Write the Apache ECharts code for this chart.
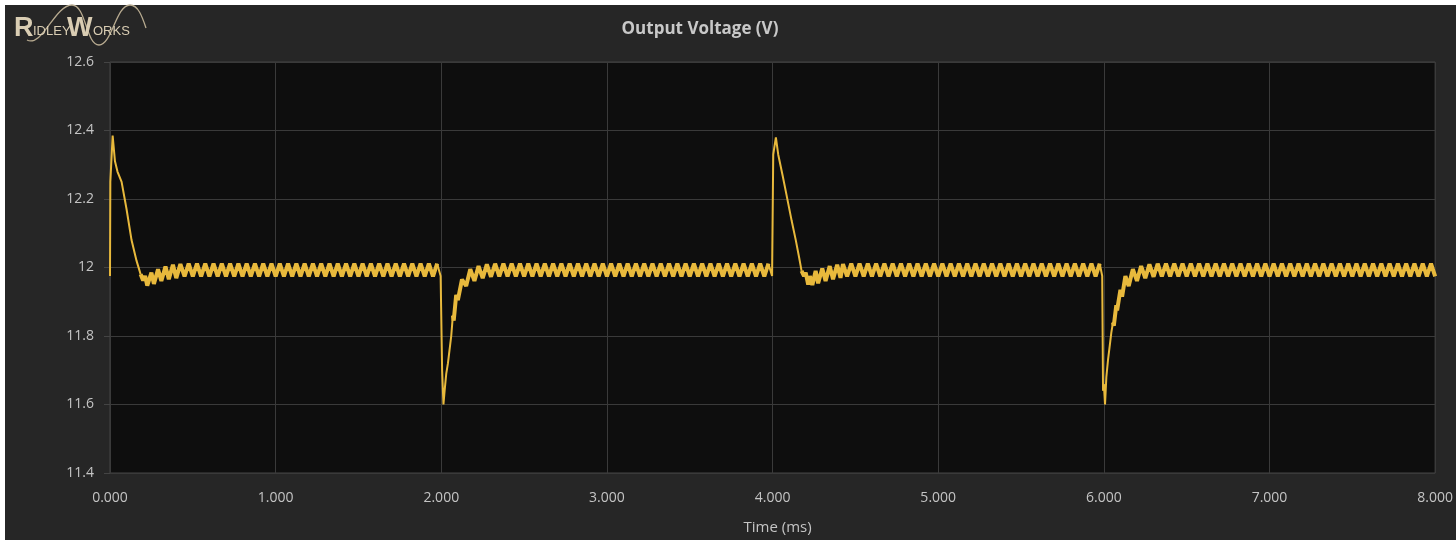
<!DOCTYPE html>
<html>
<head>
<meta charset="utf-8">
<script src="https://cdn.jsdelivr.net/npm/echarts@6/dist/echarts.min.js"></script>
<style>
html,body{margin:0;padding:0;background:#ffffff;}
#chart{width:1456px;height:540px;}
</style>
</head>
<body>
<div id="chart"></div>
<script>
// Tick labels
var xTicks = [0, 1, 2, 3, 4, 5, 6, 7, 8];
var yTicks = [11.4, 11.6, 11.8, 12.0, 12.2, 12.4, 12.6];

// Output voltage samples [time (ms), volts].
// Fast transient excursions (thin trace):
var spike0 = [
  [0,11.975],[0.002,12.25],[0.016,12.385],[0.03,12.31],[0.045,12.28],[0.07,12.25],[0.1,12.17],[0.13,12.08],[0.16,12.02],[0.185,11.98]
];
var spike2 = [
  [1.975,12.011],[1.996,11.975],[2.005,11.7],[2.013,11.6],[2.02,11.64],[2.03,11.69],[2.04,11.72],[2.05,11.76],[2.06,11.8],[2.07,11.86]
];
var spike4 = [
  [3.975,12.011],[3.997,11.975],[4.004,12.33],[4.02,12.38],[4.034,12.33],[4.06,12.27],[4.085,12.21],[4.115,12.137],[4.14,12.08],[4.16,12.03],[4.175,11.99]
];
var spike6 = [
  [5.975,12.011],[5.99,11.975],[5.995,11.64],[6.0,11.66],[6.007,11.6],[6.015,11.68],[6.025,11.73],[6.035,11.77],[6.045,11.81],[6.055,11.84]
];
// Switching ripple (dense band):
var ripple0 = [
  [0.185,11.98],
  [0.2,11.962],[0.212,11.975],[0.225,11.947],[0.25,11.985],[0.265,11.952],[0.29,11.995],[0.31,11.961],[0.335,12.003],[0.355,11.966],[0.38,12.008],
  [0.4,11.969],[0.425,12.01],[0.45,11.974],[0.475,12.011],[0.5,11.974],[0.525,12.011],[0.55,11.974],[0.575,12.011],[0.6,11.974],[0.625,12.011],
  [0.65,11.974],[0.675,12.011],[0.7,11.974],[0.725,12.011],[0.75,11.974],[0.775,12.011],[0.8,11.974],[0.825,12.011],[0.85,11.974],[0.875,12.011],
  [0.9,11.974],[0.925,12.011],[0.95,11.974],[0.975,12.011],[1.0,11.974],[1.025,12.011],[1.05,11.974],[1.075,12.011],[1.1,11.974],[1.125,12.011],
  [1.15,11.974],[1.175,12.011],[1.2,11.974],[1.225,12.011],[1.25,11.974],[1.275,12.011],[1.3,11.974],[1.325,12.011],[1.35,11.974],[1.375,12.011],
  [1.4,11.974],[1.425,12.011],[1.45,11.974],[1.475,12.011],[1.5,11.974],[1.525,12.011],[1.55,11.974],[1.575,12.011],[1.6,11.974],[1.625,12.011],
  [1.65,11.974],[1.675,12.011],[1.7,11.974],[1.725,12.011],[1.75,11.974],[1.775,12.011],[1.8,11.974],[1.825,12.011],[1.85,11.974],[1.875,12.011],
  [1.9,11.974],[1.925,12.011],[1.95,11.974],[1.975,12.011]
];
var ripple2 = [
  [2.07,11.86],[2.075,11.845],
  [2.09,11.92],[2.1,11.905],[2.125,11.965],[2.15,11.946],[2.175,11.995],[2.2,11.961],[2.225,12.004],[2.25,11.969],[2.275,12.009],[2.3,11.973],
  [2.325,12.011],[2.35,11.974],[2.375,12.011],[2.4,11.974],[2.425,12.011],[2.45,11.974],[2.475,12.011],[2.5,11.974],[2.525,12.011],[2.55,11.974],
  [2.575,12.011],[2.6,11.974],[2.625,12.011],[2.65,11.974],[2.675,12.011],[2.7,11.974],[2.725,12.011],[2.75,11.974],[2.775,12.011],[2.8,11.974],
  [2.825,12.011],[2.85,11.974],[2.875,12.011],[2.9,11.974],[2.925,12.011],[2.95,11.974],[2.975,12.011],[3.0,11.974],[3.025,12.011],[3.05,11.974],
  [3.075,12.011],[3.1,11.974],[3.125,12.011],[3.15,11.974],[3.175,12.011],[3.2,11.974],[3.225,12.011],[3.25,11.974],[3.275,12.011],[3.3,11.974],
  [3.325,12.011],[3.35,11.974],[3.375,12.011],[3.4,11.974],[3.425,12.011],[3.45,11.974],[3.475,12.011],[3.5,11.974],[3.525,12.011],[3.55,11.974],
  [3.575,12.011],[3.6,11.974],[3.625,12.011],[3.65,11.974],[3.675,12.011],[3.7,11.974],[3.725,12.011],[3.75,11.974],[3.775,12.011],[3.8,11.974],
  [3.825,12.011],[3.85,11.974],[3.875,12.011],[3.9,11.974],[3.925,12.011],[3.95,11.974],[3.975,12.011]
];
var ripple4 = [
  [4.175,11.99],
  [4.19,11.975],[4.2,11.985],[4.215,11.95],[4.225,11.975],[4.24,11.949],[4.26,11.99],[4.275,11.954],[4.3,11.997],[4.32,11.961],[4.345,12.004],
  [4.365,11.966],[4.39,12.008],[4.41,11.97],[4.425,12.01],[4.45,11.974],[4.475,12.011],[4.5,11.974],[4.525,12.011],[4.55,11.974],[4.575,12.011],
  [4.6,11.974],[4.625,12.011],[4.65,11.974],[4.675,12.011],[4.7,11.974],[4.725,12.011],[4.75,11.974],[4.775,12.011],[4.8,11.974],[4.825,12.011],
  [4.85,11.974],[4.875,12.011],[4.9,11.974],[4.925,12.011],[4.95,11.974],[4.975,12.011],[5.0,11.974],[5.025,12.011],[5.05,11.974],[5.075,12.011],
  [5.1,11.974],[5.125,12.011],[5.15,11.974],[5.175,12.011],[5.2,11.974],[5.225,12.011],[5.25,11.974],[5.275,12.011],[5.3,11.974],[5.325,12.011],
  [5.35,11.974],[5.375,12.011],[5.4,11.974],[5.425,12.011],[5.45,11.974],[5.475,12.011],[5.5,11.974],[5.525,12.011],[5.55,11.974],[5.575,12.011],
  [5.6,11.974],[5.625,12.011],[5.65,11.974],[5.675,12.011],[5.7,11.974],[5.725,12.011],[5.75,11.974],[5.775,12.011],[5.8,11.974],[5.825,12.011],
  [5.85,11.974],[5.875,12.011],[5.9,11.974],[5.925,12.011],[5.95,11.974],[5.975,12.011]
];
var ripple6 = [
  [6.055,11.84],[6.06,11.83],
  [6.075,11.89],[6.08,11.875],[6.1,11.935],[6.11,11.915],[6.13,11.975],[6.15,11.946],[6.175,11.995],[6.2,11.961],[6.225,12.004],[6.25,11.969],
  [6.275,12.009],[6.3,11.973],[6.325,12.011],[6.35,11.974],[6.375,12.011],[6.4,11.974],[6.425,12.011],[6.45,11.974],[6.475,12.011],[6.5,11.974],
  [6.525,12.011],[6.55,11.974],[6.575,12.011],[6.6,11.974],[6.625,12.011],[6.65,11.974],[6.675,12.011],[6.7,11.974],[6.725,12.011],[6.75,11.974],
  [6.775,12.011],[6.8,11.974],[6.825,12.011],[6.85,11.974],[6.875,12.011],[6.9,11.974],[6.925,12.011],[6.95,11.974],[6.975,12.011],[7.0,11.974],
  [7.025,12.011],[7.05,11.974],[7.075,12.011],[7.1,11.974],[7.125,12.011],[7.15,11.974],[7.175,12.011],[7.2,11.974],[7.225,12.011],[7.25,11.974],
  [7.275,12.011],[7.3,11.974],[7.325,12.011],[7.35,11.974],[7.375,12.011],[7.4,11.974],[7.425,12.011],[7.45,11.974],[7.475,12.011],[7.5,11.974],
  [7.525,12.011],[7.55,11.974],[7.575,12.011],[7.6,11.974],[7.625,12.011],[7.65,11.974],[7.675,12.011],[7.7,11.974],[7.725,12.011],[7.75,11.974],
  [7.775,12.011],[7.8,11.974],[7.825,12.011],[7.85,11.974],[7.875,12.011],[7.9,11.974],[7.925,12.011],[7.95,11.974],[7.975,12.011],[8.0,11.974]
];

var traceColor = '#e8b93c';
var spikeSegments = [spike0, spike2, spike4, spike6];
var rippleSegments = [ripple0, ripple2, ripple4, ripple6];

function lineSeries(data, width) {
  return {
    type: 'line', data: data, showSymbol: false, sampling: null, silent: true,
    lineStyle: {color: traceColor, width: width, join: 'bevel'}, itemStyle: {color: traceColor}
  };
}
var series = [];
rippleSegments.forEach(function (d) { series.push(lineSeries(d, 4)); });
spikeSegments.forEach(function (d) { series.push(lineSeries(d, 2)); });

var chart = echarts.init(document.getElementById('chart'), null, {renderer: 'canvas'});
var labelColor = '#c4c4c4';
var font = '"Open Sans", "Noto Sans", sans-serif';
var logoFill = '#d9cdb3';
var waveStroke = '#b8ab90';
var bigLogoFont = 'bold 27px "Liberation Sans", sans-serif';
var smallLogoFont = '13px "Liberation Sans", sans-serif';

chart.setOption({
  animation: false,
  backgroundColor: '#ffffff',
  title: {
    text: 'Output Voltage (V)',
    left: 695, top: 16, textAlign: 'center',
    textStyle: {color: '#c8c8c8', fontSize: 17, fontWeight: 'bold', fontFamily: font}
  },
  graphic: [
    {type: 'rect', z: -10, silent: true, shape: {x: 5, y: 5, width: 1451, height: 535}, style: {fill: '#262626'}},
    {type: 'bezierCurve', z: 5, silent: true,
      shape: {x1: 27, y1: 40, cpx1: 42, cpy1: 48, cpx2: 55, cpy2: 5, x2: 72, y2: 5},
      style: {fill: null, stroke: waveStroke, lineWidth: 1.3}},
    {type: 'bezierCurve', z: 5, silent: true,
      shape: {x1: 72, y1: 5, cpx1: 86, cpy1: 5, cpx2: 86, cpy2: 45, x2: 99, y2: 45},
      style: {fill: null, stroke: waveStroke, lineWidth: 1.3}},
    {type: 'bezierCurve', z: 5, silent: true,
      shape: {x1: 99, y1: 45, cpx1: 112, cpy1: 45, cpx2: 116, cpy2: 5, x2: 130, y2: 5},
      style: {fill: null, stroke: waveStroke, lineWidth: 1.3}},
    {type: 'bezierCurve', z: 5, silent: true,
      shape: {x1: 130, y1: 5, cpx1: 138, cpy1: 5, cpx2: 142, cpy2: 16, x2: 146, y2: 28},
      style: {fill: null, stroke: waveStroke, lineWidth: 1.3}},
    {type: 'text', z: 6, silent: true, style: {x: 14, y: 42, text: 'R', fill: logoFill, font: bigLogoFont, textVerticalAlign: 'bottom'}},
    {type: 'text', z: 6, silent: true, style: {x: 33, y: 38, text: 'IDLEY', fill: logoFill, font: smallLogoFont, textVerticalAlign: 'bottom'}},
    {type: 'text', z: 6, silent: true, style: {x: 67, y: 42, text: 'W', fill: logoFill, font: bigLogoFont, textVerticalAlign: 'bottom'}},
    {type: 'text', z: 6, silent: true, style: {x: 93, y: 38, text: 'ORKS', fill: logoFill, font: smallLogoFont, textVerticalAlign: 'bottom'}}
  ],
  grid: {
    left: 110, right: 11, top: 62, bottom: 62,
    show: true, backgroundColor: '#0e0e0e', borderColor: '#444444', borderWidth: 1
  },
  xAxis: {
    type: 'value', min: xTicks[0], max: xTicks[xTicks.length - 1], interval: 1,
    name: 'Time (ms)', nameLocation: 'middle', nameGap: 47,
    nameTextStyle: {color: labelColor, fontSize: 15, fontFamily: font, padding: [0, 0, 0, 10]},
    axisLine: {show: false}, axisTick: {show: false},
    axisLabel: {color: labelColor, fontSize: 14, fontFamily: font, margin: 18,
      formatter: function (v) { return v.toFixed(3); }},
    splitLine: {show: true, lineStyle: {color: '#3a3a3a', width: 1}}
  },
  yAxis: {
    type: 'value', min: yTicks[0], max: yTicks[yTicks.length - 1], interval: 0.2,
    axisLine: {show: false},
    axisTick: {show: true, length: 6, lineStyle: {color: '#444444'}},
    axisLabel: {color: labelColor, fontSize: 14, fontFamily: font, margin: 16,
      formatter: function (v) { return String(+v.toFixed(1)); }},
    splitLine: {show: true, lineStyle: {color: '#3a3a3a', width: 1}}
  },
  series: series
});
</script>
</body>
</html>
